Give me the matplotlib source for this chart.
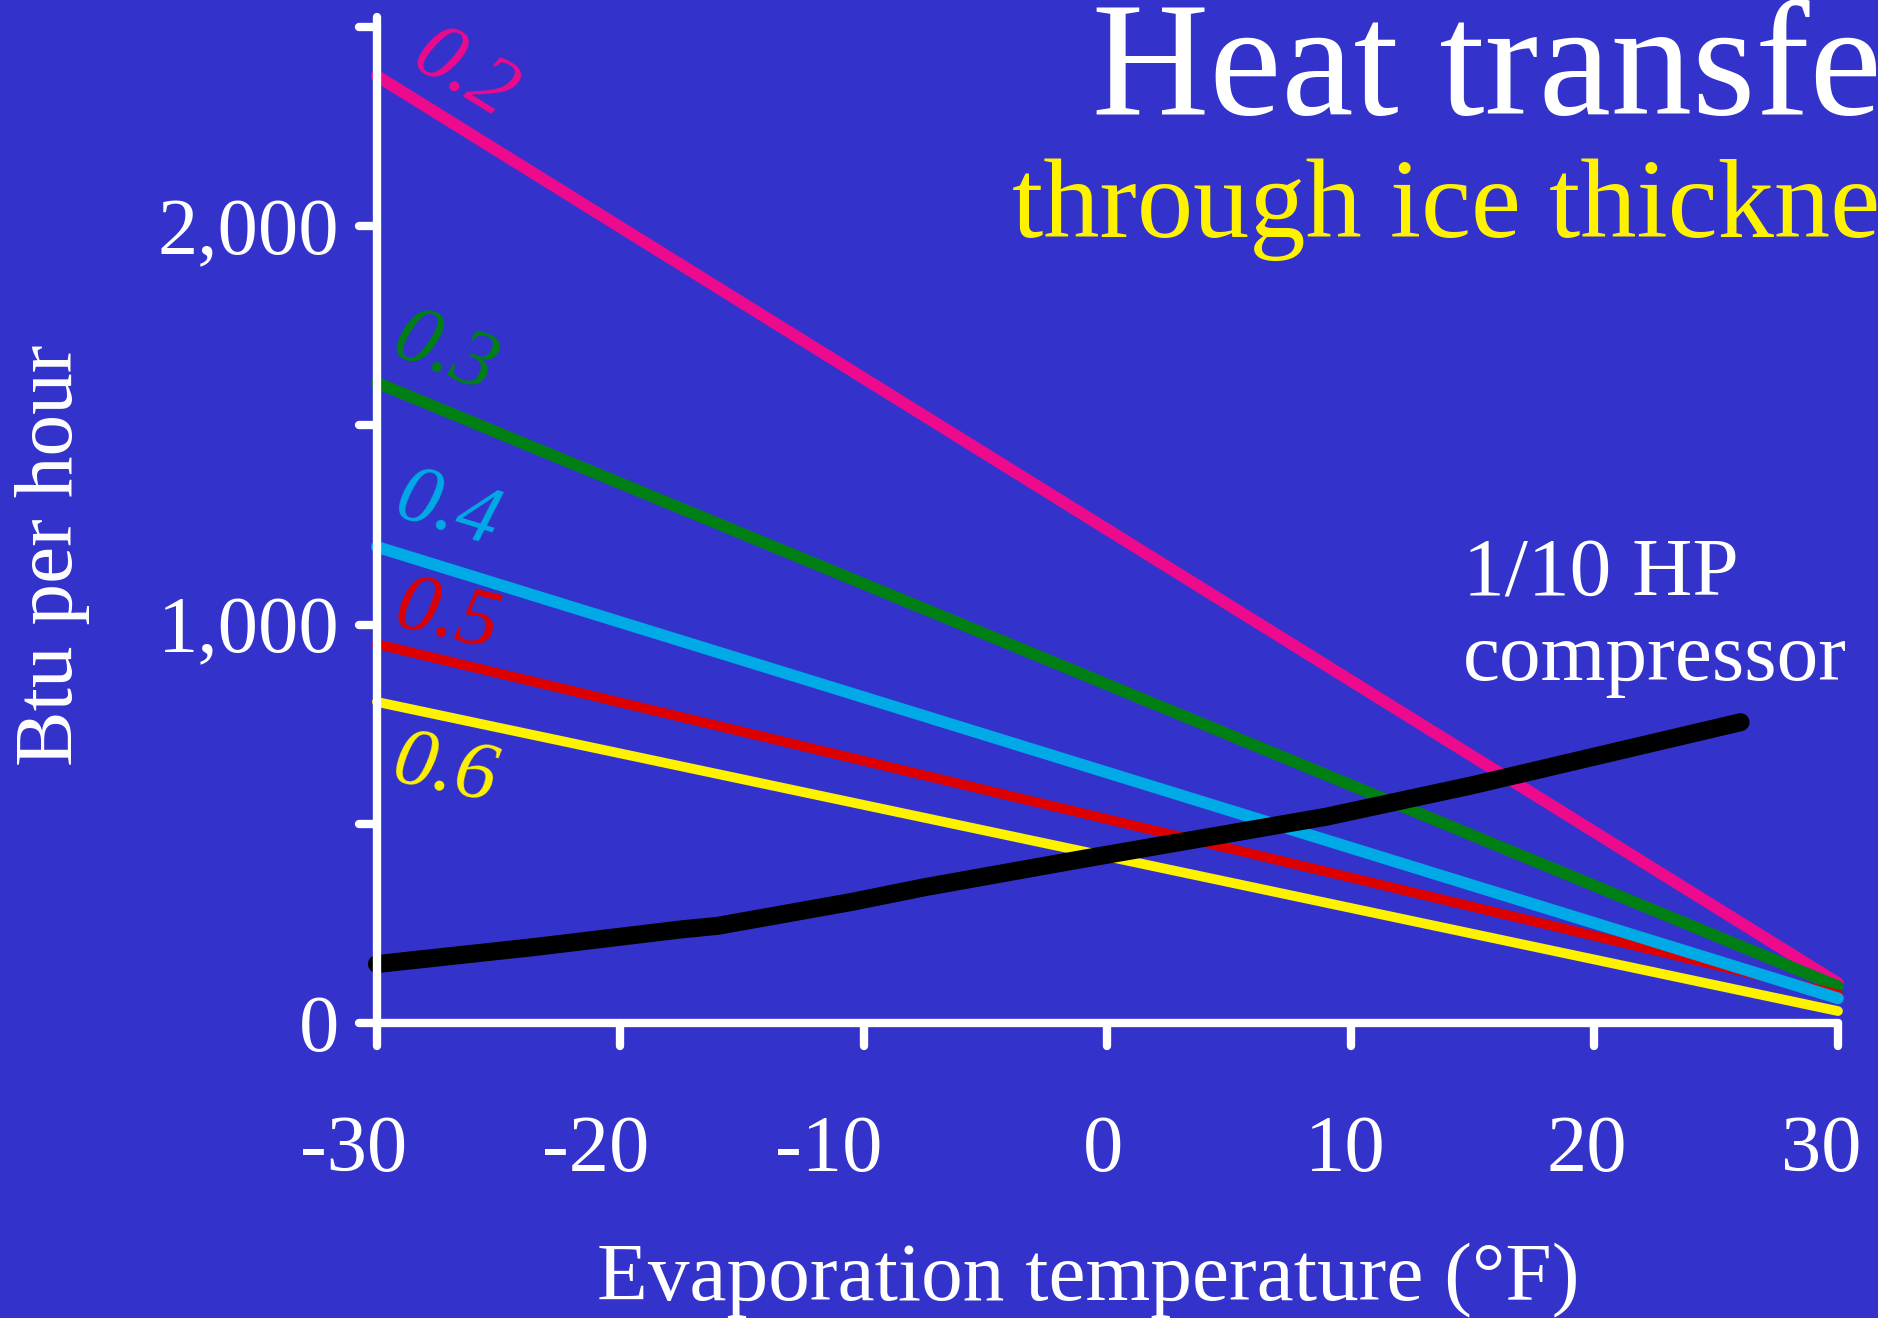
import numpy as np
import matplotlib
matplotlib.use("Agg")
import matplotlib.pyplot as plt
import matplotlib.transforms as mtransforms
from matplotlib.markers import MarkerStyle

plt.rcParams['font.family'] = ['Liberation Serif', 'DejaVu Serif']

BG = '#3333CC'

# evaporation temperature range (deg F)
temp_range = [-30, 30]

# heat flow through ice layers of different thickness (inches), Btu/h
thickness = ['0.2', '0.3', '0.4', '0.5', '0.6']
heat_at_ends = {
    '0.2': [2377, 100],
    '0.3': [1607, 92],
    '0.4': [1195, 62],
    '0.5': [951, 72],
    '0.6': [806, 30],
}
line_colors = {
    '0.2': '#EE0A8C',
    '0.3': '#008014',
    '0.4': '#00AAE6',
    '0.5': '#DD0000',
    '0.6': '#FFF200',
}
line_widths = {'0.2': 8.5, '0.3': 8.5, '0.4': 8.5, '0.5': 7, '0.6': 7}
# label anchor points (temperature, Btu/h)
label_pos = {
    '0.2': (-26.4, 2378),
    '0.3': (-27.2, 1678),
    '0.4': (-27.1, 1283),
    '0.5': (-27.1, 1016),
    '0.6': (-27.2, 632),
}

# 1/10 HP compressor capacity
comp_temp = [-30, -23.5, -17.5, -16, -10.5, -7.5, -1, 9, 15, 26]
comp_btu = [148, 191, 235, 244, 304, 341, 412, 518, 597, 755]

xticks = [-30, -20, -10, 0, 10, 20, 30]
xtick_labels = ['-30', '-20', '-10', '0', '10', '20', '30']
yticks = [0, 500, 1000, 1500, 2000, 2500]
ytick_labels = ['0', '', '1,000', '', '2,000', '']

# small horizontal nudges for the x tick labels (pixels)
xlabel_shift = [-23, -25, -35, -4, -6, -8, -17]

fig = plt.figure(figsize=(18.78, 13.18), dpi=100, facecolor=BG)
ax = fig.add_axes([0.2007, 0.2238, 0.7780, 0.7633], facecolor=BG)
ax.set_xlim(*temp_range)
ax.set_ylim(0, 2525)

# draw order matters: green over pink, blue over red, black on top
for key in ['0.2', '0.3', '0.5', '0.4', '0.6']:
    ax.plot(temp_range, heat_at_ends[key], color=line_colors[key],
            lw=line_widths[key], solid_capstyle='round', clip_on=False, zorder=2)

ax.plot(comp_temp, comp_btu, color='black', lw=13, solid_capstyle='round',
        solid_joinstyle='round', clip_on=False, zorder=2.2)

for key in thickness:
    y0, y1 = heat_at_ends[key]
    ang = np.degrees(np.arctan2(y1 - y0, temp_range[1] - temp_range[0]))
    x, y = label_pos[key]
    ax.text(x, y, key, color=line_colors[key], fontsize=60, fontstyle='italic',
            rotation=ang, transform_rotates_text=True,
            ha='center', va='center', rotation_mode='anchor')

ax.text(14.6, 1072, '1/10 HP', color='white', fontsize=60, va='baseline', ha='left')
ax.text(14.6, 861, 'compressor', color='white', fontsize=60, va='baseline', ha='left')

# axes styling
for side in ['top', 'right']:
    ax.spines[side].set_visible(False)
for side in ['left', 'bottom']:
    ax.spines[side].set_color('white')
    ax.spines[side].set_linewidth(6)
    ax.spines[side].set_capstyle('round')
    ax.spines[side].set_zorder(3)

ax.set_xticks(xticks)
ax.set_xticklabels(xtick_labels)
ax.set_yticks(yticks)
ax.set_yticklabels(ytick_labels)
ax.tick_params(axis='x', direction='out', length=16.5, width=6, color='white',
               labelcolor='white', labelsize=58, pad=50)
ax.tick_params(axis='y', direction='out', length=13, width=6, color='white',
               labelcolor='white', labelsize=58, pad=14)
for tl in ax.xaxis.get_ticklines() + ax.yaxis.get_ticklines():
    tl.set_marker(MarkerStyle(tl.get_marker(), capstyle='round'))
for lbl, dx in zip(ax.get_xticklabels(), xlabel_shift):
    off = mtransforms.ScaledTranslation(dx / 100, 0, fig.dpi_scale_trans)
    lbl.set_transform(lbl.get_transform() + off)

fig.text(0.5794, 0.0137, 'Evaporation temperature (\u00b0F)', color='white',
         fontsize=60, ha='center', va='baseline')
fig.text(0.0277, 0.5789, 'Btu per hour', color='white', fontsize=60,
         rotation=90, ha='center', va='center')

fig.text(0.5815, 0.9135, 'Heat transfer', color='white', fontsize=117,
         ha='left', va='baseline')
fig.text(0.5389, 0.8202, 'through ice thickness', color='#FFF200', fontsize=81,
         ha='left', va='baseline')

fig.savefig('out.png', dpi=100, facecolor=BG)
